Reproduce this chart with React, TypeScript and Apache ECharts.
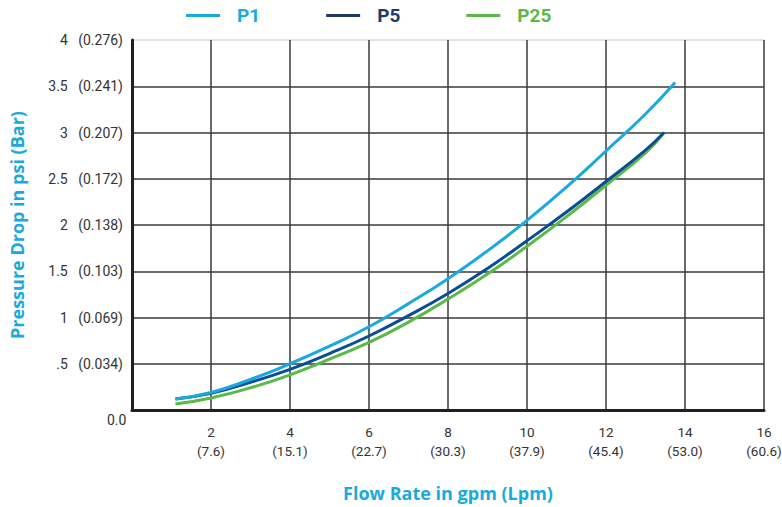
import React, { useEffect, useRef } from "react";
import * as echarts from "echarts";

const seriesNames = ["P1", "P5", "P25"];
const p1Data: [number, number][] = [
  [1.1, 0.12], [2, 0.19], [3, 0.33], [4, 0.5], [5, 0.69], [6, 0.9], [7, 1.15],
  [8, 1.42], [9, 1.72], [10, 2.05], [11, 2.41], [12, 2.8], [13, 3.2], [13.75, 3.54],
];
const p5Data: [number, number][] = [
  [1.1, 0.12], [2, 0.18], [3, 0.3], [4, 0.44], [5, 0.61], [6, 0.8], [7, 1.02],
  [8, 1.26], [9, 1.53], [10, 1.83], [11, 2.14], [12, 2.47], [13, 2.81], [13.47, 3.0],
];
const p25Data: [number, number][] = [
  [1.1, 0.065], [2, 0.13], [3, 0.24], [4, 0.38], [5, 0.55], [6, 0.73], [7, 0.95],
  [8, 1.2], [9, 1.47], [10, 1.77], [11, 2.09], [12, 2.43], [13, 2.78], [13.47, 3.0],
];
const yPsiLabels = ["", ".5", "1", "1.5", "2", "2.5", "3", "3.5", "4"];
const yBarLabels = ["", "0.034", "0.069", "0.103", "0.138", "0.172", "0.207", "0.241", "0.276"];
const xGpmLabels = ["", "2", "4", "6", "8", "10", "12", "14", "16"];
const xLpmLabels = ["", "7.6", "15.1", "22.7", "30.3", "37.9", "45.4", "53.0", "60.6"];

const lineColors = ["#1aa9de", "#0c4c97", "#5bb947"];
const legendColors = ["#1aa9de", "#22386e", "#5bb947"];

export default function App() {
  const ref = useRef<HTMLDivElement>(null);
  useEffect(() => {
    if (!ref.current) return;
    const chart = echarts.init(ref.current, undefined, { renderer: "svg" });
    const datas = [p1Data, p5Data, p25Data];
    const gridColors = ["#3a3a3a", "#3a3a3a", "#3a3a3a", "#3a3a3a", "#3a3a3a", "#3a3a3a", "#3a3a3a", "#3a3a3a", "#d8d8d8"];
    chart.setOption({
      animation: false,
      backgroundColor: "#fff",
      textStyle: { fontFamily: "Roboto" },
      legend: {
        left: 186,
        top: 6,
        padding: 0,
        icon: "rect",
        itemWidth: 34,
        itemHeight: 3,
        itemGap: 66,
        data: seriesNames.map((n, i) => ({
          name: n,
          itemStyle: { color: legendColors[i] },
          textStyle: {
            color: legendColors[i],
            fontWeight: "bold",
            fontSize: 19,
            fontFamily: "Roboto",
            padding: [0, 0, 0, 12],
          },
        })),
      },
      grid: {
        left: 132,
        right: 18,
        top: 40,
        bottom: 97,
        containLabel: false,
        outerBoundsMode: "none",
      },
      xAxis: {
        type: "value",
        min: 0,
        max: 16,
        interval: 2,
        name: "Flow Rate in gpm (Lpm)",
        nameLocation: "middle",
        nameGap: 74,
        nameTextStyle: { color: "#1aa9de", fontWeight: "bold", fontSize: 18, fontFamily: "Open Sans" },
        axisLine: { show: true, lineStyle: { color: "#231f20", width: 3 } },
        axisTick: { show: false },
        splitLine: { show: true, lineStyle: { color: "#3a3a3a", width: 1.5 } },
        axisLabel: {
          margin: 12,
          color: "#333",
          fontSize: 13.5,
          lineHeight: 19,
          formatter: (v: number) => {
            const i = Math.round(v / 2);
            return xGpmLabels[i] ? `${xGpmLabels[i]}\n(${xLpmLabels[i]})` : "";
          },
        },
      },
      yAxis: {
        type: "value",
        min: 0,
        max: 4,
        interval: 0.5,
        name: "Pressure Drop in psi (Bar)",
        nameLocation: "middle",
        nameGap: 106,
        nameRotate: 90,
        nameTextStyle: { color: "#1aa9de", fontWeight: "bold", fontSize: 18, fontFamily: "Open Sans" },
        axisLine: { show: true, lineStyle: { color: "#231f20", width: 3 } },
        axisTick: { show: false },
        splitLine: { show: true, lineStyle: { color: gridColors, width: 1.5 } },
        axisLabel: {
          margin: 9,
          color: "#333",
          fontSize: 14,
          formatter: (v: number) => {
            const i = Math.round(v / 0.5);
            return yPsiLabels[i] ? `${yPsiLabels[i]}   (${yBarLabels[i]})` : "";
          },
        },
      },
      graphic: [
        {
          type: "text",
          left: 107,
          top: 413,
          style: { text: "0.0", fill: "#333", fontSize: 14, fontFamily: "Roboto" },
        },
      ],
      series: seriesNames.map((n, i) => ({
        name: n,
        type: "line",
        smooth: true,
        showSymbol: false,
        data: datas[i],
        lineStyle: { color: lineColors[i], width: 3 },
        itemStyle: { color: lineColors[i] },
        z: 3 - i,
      })),
    });
    return () => chart.dispose();
  }, []);
  return (
    <div
      ref={ref}
      style={{ position: "fixed", left: 0, top: 0, width: 782, height: 507 }}
    />
  );
}
